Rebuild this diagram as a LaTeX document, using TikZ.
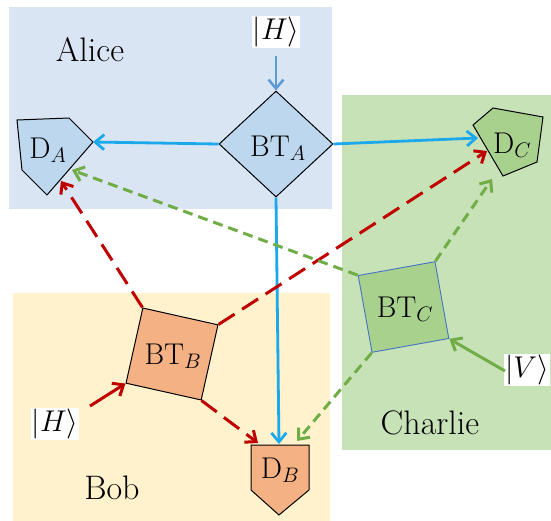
\RequirePackage{fix-cm}
\documentclass[tikz,border=0pt]{standalone}
\usetikzlibrary{arrows.meta,shapes.geometric}
\definecolor{alicebg}{HTML}{DAE5F3}
\definecolor{bobbg}{HTML}{FFF2CC}
\definecolor{charliebg}{HTML}{C8E2B8}
\definecolor{bluefill}{HTML}{BDD7EE}
\definecolor{greenfill}{HTML}{A9D18E}
\definecolor{orangefill}{HTML}{F4B183}
\definecolor{arrblue}{HTML}{1BA9EC}
\definecolor{arrlblue}{HTML}{5B9BD5}
\definecolor{arrred}{HTML}{C00000}
\definecolor{arrgreen}{HTML}{70AD47}
\definecolor{btcborder}{HTML}{4472C4}
\begin{document}
\begin{tikzpicture}[x=1pt,y=-1pt,
  lbl/.style={font=\fontsize{30}{36}\selectfont, inner sep=0pt},
  region/.style={font=\fontsize{34}{40}\selectfont, inner sep=0pt},
  ket/.style={font=\fontsize{30}{36}\selectfont, inner sep=1pt, fill=white},
  tip/.style={-{Straight Barb[length=9pt,width=15pt]}},
  bluearr/.style={tip, draw=arrblue, line width=2.8pt},
  inarrblue/.style={tip, draw=arrlblue, line width=2.5pt},
  redarr/.style={tip, draw=arrred, line width=3pt, dash pattern=on 19pt off 9pt},
  redsolid/.style={tip, draw=arrred, line width=3pt},
  greenarr/.style={tip, draw=arrgreen, line width=3pt, dash pattern=on 10pt off 6pt},
  greensolid/.style={tip, draw=arrgreen, line width=3pt},
  shapeline/.style={draw=black, line width=1pt, line join=miter}]
\useasboundingbox (0,0) rectangle (551,520);
% regions
\fill[alicebg] (9,7) rectangle (332,209);
\fill[charliebg] (342,95) rectangle (560,450);
\fill[bobbg] (13,293) rectangle (330,530);
% region labels
\node[region] (alice) at (90,50) {Alice};
\node[region] (bob) at (112,488) {Bob};
\node[region] (charlie) at (430,423) {Charlie};
% beam splitters
\node[diamond, shapeline, fill=bluefill, minimum width=114pt, minimum height=106pt,
      inner sep=0pt, lbl] (BTA) at (276,144) {};
\node[lbl] (BTAt) at (278,148) {BT$_A$};
\node[rectangle, shapeline, fill=orangefill, minimum size=77pt, rotate=-12.6] (BTB) at (172,354) {};
\node[lbl] (BTBt) at (173,356) {BT$_B$};
\node[rectangle, draw=btcborder, line width=0.9pt, fill=greenfill, minimum size=78pt, rotate=10.2] (BTC) at (403.5,307) {};
\node[lbl] (BTCt) at (405,309) {BT$_C$};
% detectors
\filldraw[shapeline, fill=bluefill] (17,120) -- (69,118) -- (93,142) -- (47,195) -- (22,170) -- cycle;
\node[lbl] (DA) at (48,150) {D$_A$};
\filldraw[shapeline, fill=greenfill] (473,125) -- (493,108) -- (543,117) -- (537,162) -- (503,176) -- cycle;
\node[lbl] (DC) at (512,145) {D$_C$};
\filldraw[shapeline, fill=orangefill] (251,445) -- (309,445) -- (309,490) -- (279,515) -- (251,490) -- cycle;
\node[lbl] (DB) at (280,470) {D$_B$};
% input states
\node[ket] (HA) at (276,32) {$|H\rangle$};
\node[ket] (HB) at (55,424) {$|H\rangle$};
\node[ket, anchor=east] (VC) at (550,370) {$|V\rangle$};
% arrow end points on detectors
\coordinate (DAb) at (93,142);
\coordinate (DAr) at (61,181);
\coordinate (DAg) at (72,170);
\coordinate (DCb) at (478,138);
\coordinate (DCr) at (487,151);
\coordinate (DCg) at (492,179);
\coordinate (DBb) at (279,444);
\coordinate (DBr) at (258,443);
\coordinate (DBg) at (297,441);
\coordinate (HAs) at (276,56);
\coordinate (HBs) at (90,406);
\coordinate (VCs) at (505,371);
% connectors
\draw[inarrblue] (HAs) -- (BTA.north);
\draw[bluearr] (BTA.west) -- (DAb);
\draw[bluearr] (BTA.east) -- (DCb);
\draw[bluearr] (BTA.south) -- (DBb);
\draw[redsolid] (HBs) -- (BTB.south west);
\draw[redarr] (BTB.north west) -- (DAr);
\draw[redarr] (BTB.north east) -- (DCr);
\draw[redarr] (BTB.south east) -- (DBr);
\draw[greensolid] (VCs) -- (BTC.south east);
\draw[greenarr] (BTC.north west) -- (DAg);
\draw[greenarr] (BTC.north east) -- (DCg);
\draw[greenarr] (BTC.south west) -- (DBg);
\end{tikzpicture}
\end{document}
